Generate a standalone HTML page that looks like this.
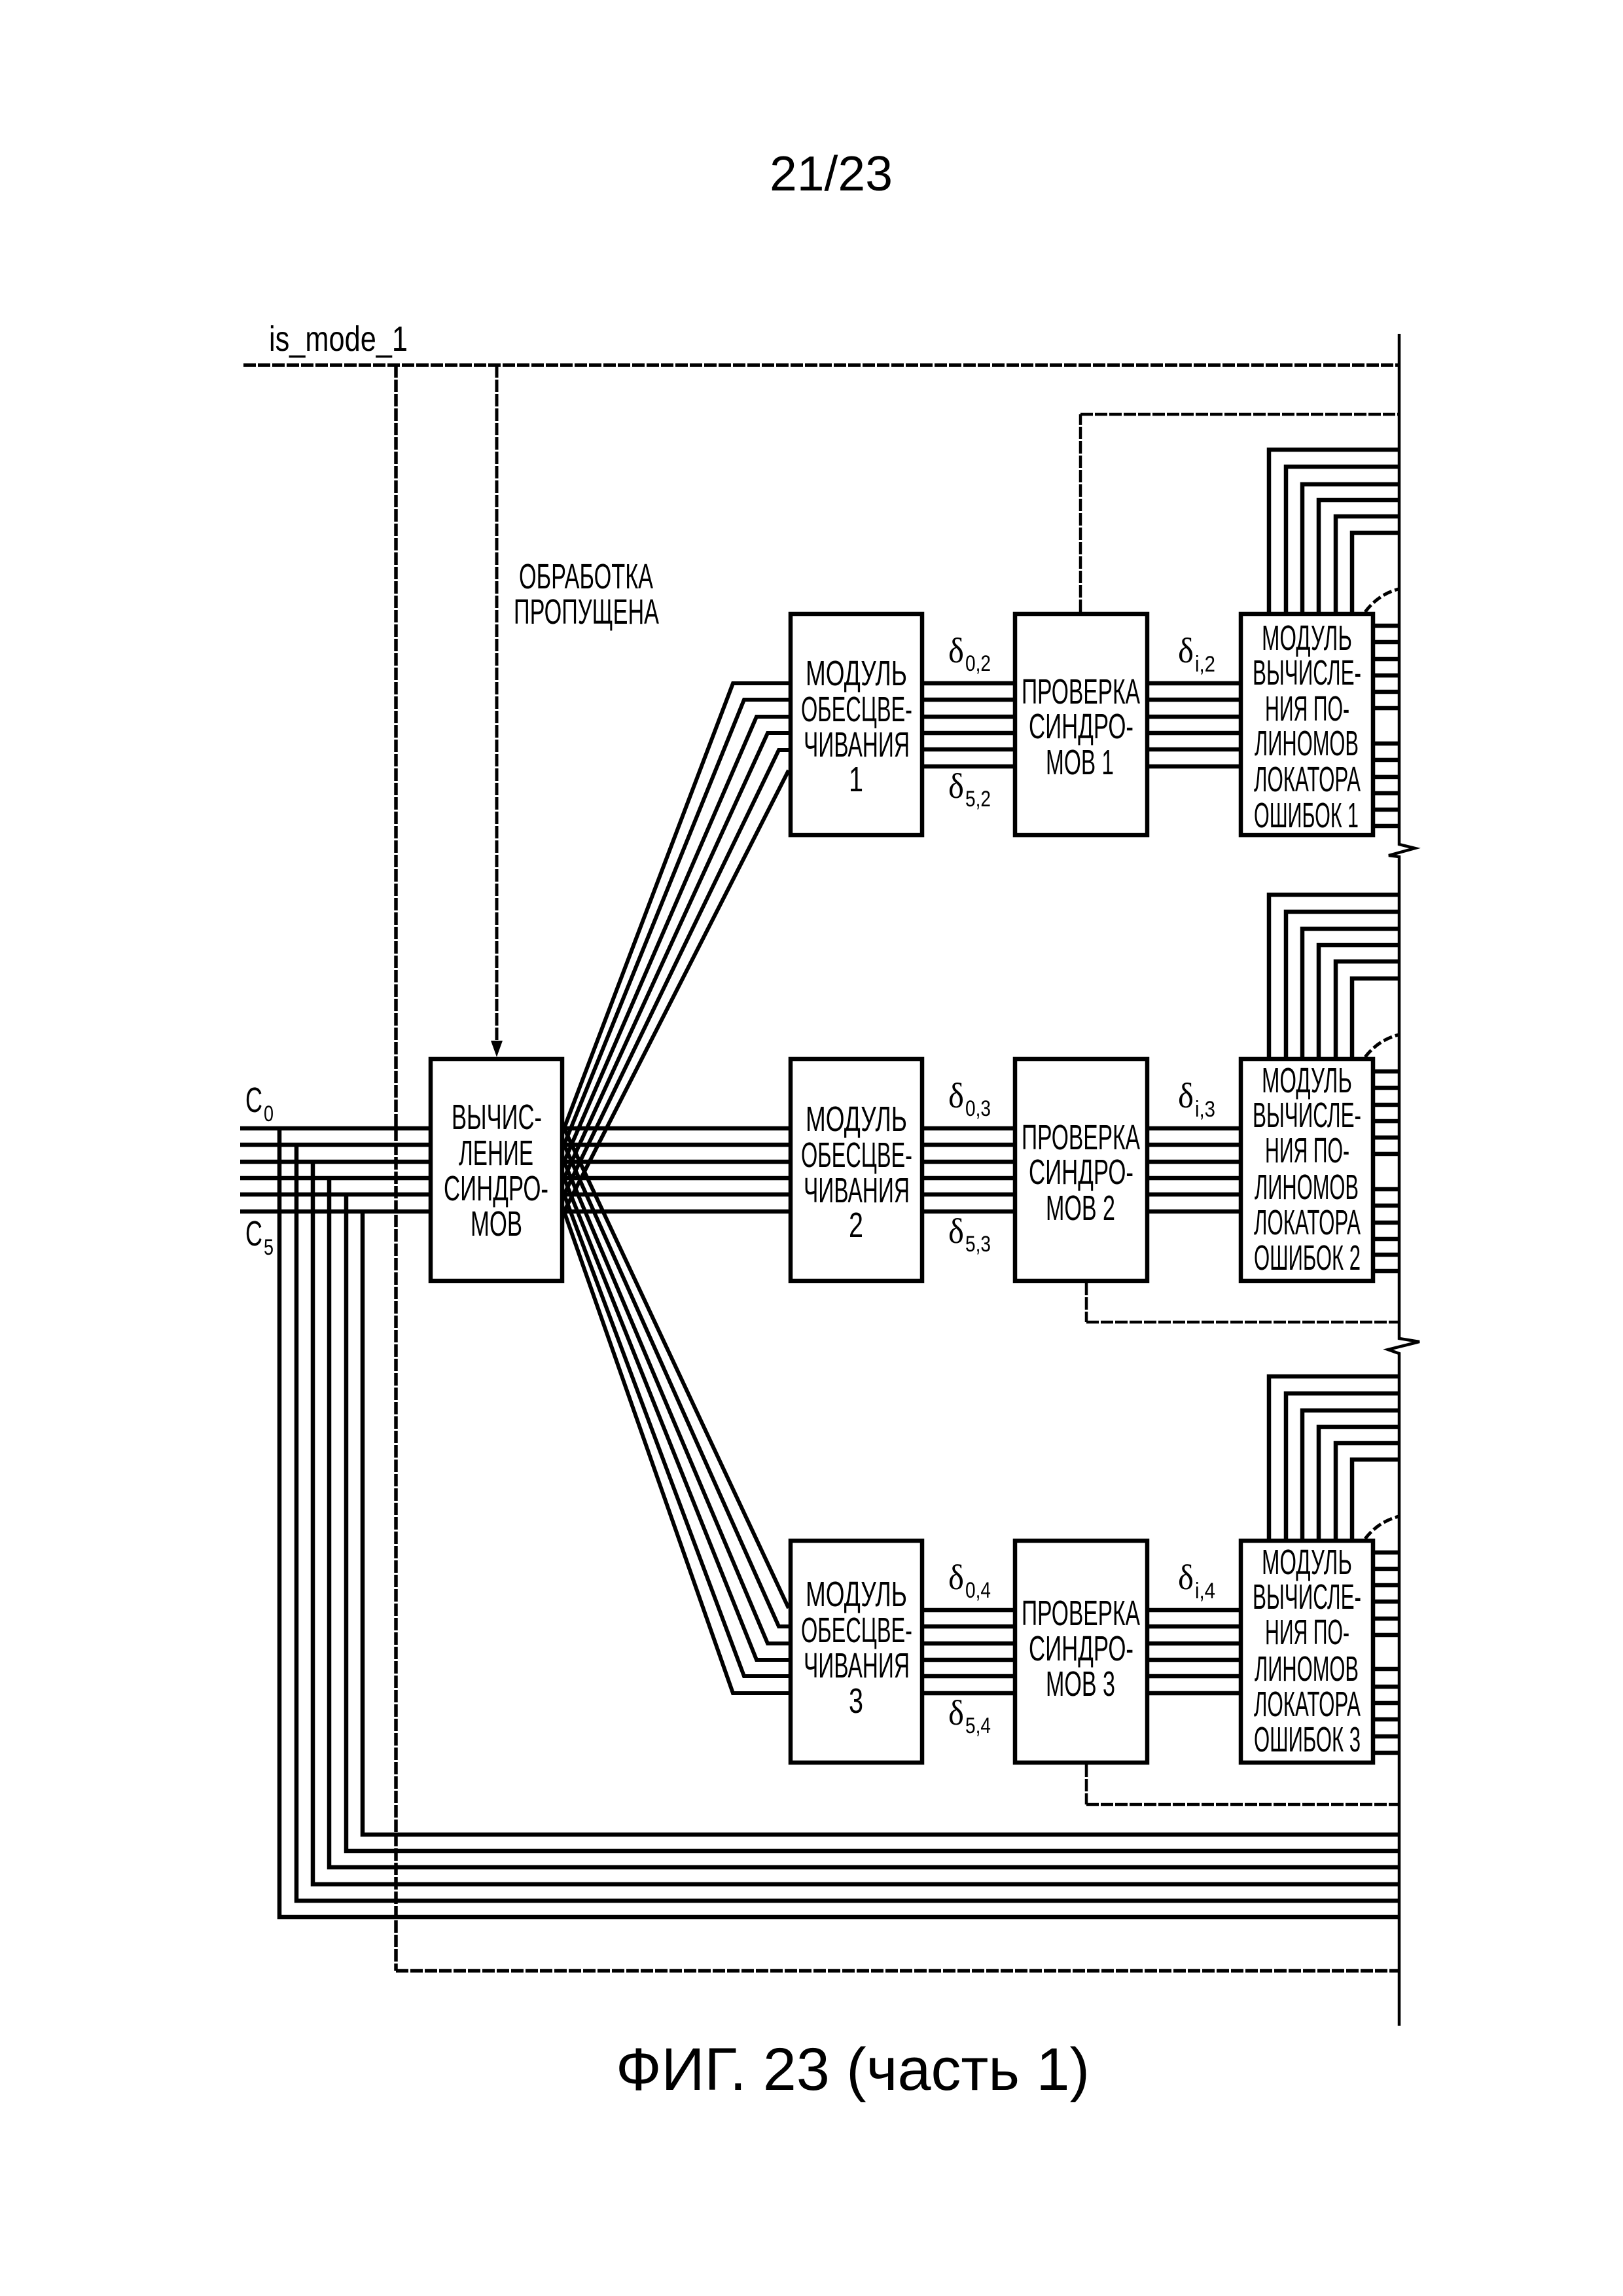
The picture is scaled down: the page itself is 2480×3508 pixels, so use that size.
<!DOCTYPE html>
<html><head><meta charset="utf-8"><style>
html,body{margin:0;padding:0;background:#fff}
svg{display:block}
text{font-family:"Liberation Sans",sans-serif;fill:#000;font-size:54px}
.d{font-family:"Liberation Serif",serif;font-size:54px}
.s{font-size:34px}
</style></head><body>
<svg width="2480" height="3508" viewBox="0 0 2480 3508" xmlns="http://www.w3.org/2000/svg">
<rect width="2480" height="3508" fill="#fff"/>
<g fill="none" stroke="#000" stroke-linejoin="miter">
<!-- dashed -->
<g stroke-width="5.5" stroke-dasharray="19 3">
<path d="M372 558H2137"/>
<path d="M605 558V3011"/>
<path d="M605 3011H2137"/>
<path d="M759 558V1592" stroke-width="5"/>
<path d="M1651 935V633" stroke-width="4.5"/>
<path d="M1651 633H2137" stroke-width="4.5"/>
<path d="M1660 1960V2020" stroke-width="4.5"/>
<path d="M1660 2020H2137" stroke-width="4.5"/>
<path d="M1660 2696V2757" stroke-width="4.5"/>
<path d="M1660 2757H2137" stroke-width="4.5"/>
</g>
<g stroke-width="5" stroke-dasharray="14 5">
<path d="M2086 935Q2106 908 2137 900"/>
<path d="M2086 1615Q2106 1589 2137 1581"/>
<path d="M2086 2351Q2106 2325 2137 2317"/>
</g>
<!-- right rail -->
<path stroke-width="4.5" d="M2138 510V1290L2162 1296L2122 1307L2138 1309V2045L2169 2050L2121 2062L2138 2068V3095"/>
<g stroke-width="6.5">
<!-- inputs -->
<path d="M367 1724H655M367 1749H655M367 1775H655M367 1800H655M367 1825H655M367 1851H655"/>
<path d="M427 1724V2929H2137M453 1749V2904H2137M478 1775V2879H2137M503 1800V2853H2137M529 1825V2828H2137M554 1851V2803H2137"/>
</g>
<g stroke-width="6">
<!-- fans -->
<path d="M862 1724L1120 1044H1205M862 1749L1137 1069H1205M862 1775L1156 1095H1205M862 1800L1173 1120H1205M862 1825L1190 1146H1205M862 1851L1205 1177"/>
<path d="M862 1851L1120 2587H1205M862 1825L1137 2561H1205M862 1800L1156 2536H1205M862 1775L1173 2511H1205M862 1749L1190 2485H1205M862 1724L1205 2457"/>
</g>
<g stroke-width="6.5">
<!-- straight middle -->
<path d="M862 1724H1205M862 1749H1205M862 1775H1205M862 1800H1205M862 1825H1205M862 1851H1205"/>
<!-- inter-box block 1 -->
<path d="M1412 1044H1893M1412 1069H1893M1412 1095H1893M1412 1120H1893M1412 1145H1893M1412 1171H1893"/>
<path d="M1412 1724H1893M1412 1749H1893M1412 1775H1893M1412 1800H1893M1412 1825H1893M1412 1851H1893"/>
<path d="M1412 2460H1893M1412 2485H1893M1412 2511H1893M1412 2536H1893M1412 2561H1893M1412 2587H1893"/>
<!-- nested -->
<path d="M1939 935V687H2137M1965 935V713H2137M1990 935V740H2137M2015 935V764H2137M2041 935V789H2137M2066 935V814H2137"/>
<path d="M1939 1615V1367H2137M1965 1615V1393H2137M1990 1615V1419H2137M2015 1615V1444H2137M2041 1615V1469H2137M2066 1615V1495H2137"/>
<path d="M1939 2351V2103H2137M1965 2351V2129H2137M1990 2351V2155H2137M2015 2351V2180H2137M2041 2351V2205H2137M2066 2351V2230H2137"/>
<!-- stubs -->
<path d="M2101 956H2137M2101 981H2137M2101 1007H2137M2101 1032H2137M2101 1057H2137M2101 1082H2137M2101 1136H2137M2101 1161H2137M2101 1187H2137M2101 1212H2137M2101 1237H2137M2101 1262H2137"/>
<path d="M2101 1637H2137M2101 1662H2137M2101 1688H2137M2101 1713H2137M2101 1738H2137M2101 1763H2137M2101 1817H2137M2101 1842H2137M2101 1868H2137M2101 1893H2137M2101 1917H2137M2101 1942H2137"/>
<path d="M2101 2372H2137M2101 2397H2137M2101 2422H2137M2101 2447H2137M2101 2473H2137M2101 2498H2137M2101 2550H2137M2101 2577H2137M2101 2602H2137M2101 2627H2137M2101 2653H2137M2101 2678H2137"/>
</g>
<!-- boxes -->
<g fill="#fff" stroke-width="6.5">
<rect x="658" y="1618" width="201" height="339"/>
<rect x="1208" y="938" width="201" height="338"/>
<rect x="1551" y="938" width="202" height="338"/>
<rect x="1896" y="938" width="202" height="338"/>
<rect x="1208" y="1618" width="201" height="339"/>
<rect x="1551" y="1618" width="202" height="339"/>
<rect x="1896" y="1618" width="202" height="339"/>
<rect x="1208" y="2354" width="201" height="339"/>
<rect x="1551" y="2354" width="202" height="339"/>
<rect x="1896" y="2354" width="202" height="339"/>
</g>
</g>
<path d="M759 1615L750 1590H768Z" fill="#000"/>

<text x="1176" y="291" style="font-size:75px" textLength="188" lengthAdjust="spacingAndGlyphs">21/23</text>
<text x="941" y="3193" style="font-size:92px" textLength="724" lengthAdjust="spacingAndGlyphs">ФИГ. 23 (часть 1)</text>
<text x="411" y="536" textLength="212" lengthAdjust="spacingAndGlyphs">is_mode_1</text>
<text x="793" y="899" textLength="205" lengthAdjust="spacingAndGlyphs">ОБРАБОТКА</text>
<text x="785" y="953" textLength="222" lengthAdjust="spacingAndGlyphs">ПРОПУЩЕНА</text>

<text x="375" y="1699" textLength="26" lengthAdjust="spacingAndGlyphs">C</text>
<text x="403" y="1713" class="s" textLength="15" lengthAdjust="spacingAndGlyphs">0</text>
<text x="375" y="1903" textLength="26" lengthAdjust="spacingAndGlyphs">C</text>
<text x="403" y="1917" class="s" textLength="15" lengthAdjust="spacingAndGlyphs">5</text>

<text x="690" y="1725" textLength="138" lengthAdjust="spacingAndGlyphs">ВЫЧИС-</text>
<text x="701" y="1780" textLength="114" lengthAdjust="spacingAndGlyphs">ЛЕНИЕ</text>
<text x="678" y="1834" textLength="160" lengthAdjust="spacingAndGlyphs">СИНДРО-</text>
<text x="719" y="1888" textLength="79" lengthAdjust="spacingAndGlyphs">МОВ</text>

<!-- module 1 -->
<text x="1231" y="1047" textLength="155" lengthAdjust="spacingAndGlyphs">МОДУЛЬ</text>
<text x="1224" y="1102" textLength="170" lengthAdjust="spacingAndGlyphs">ОБЕСЦВЕ-</text>
<text x="1228" y="1156" textLength="162" lengthAdjust="spacingAndGlyphs">ЧИВАНИЯ</text>
<text x="1297" y="1209" textLength="22" lengthAdjust="spacingAndGlyphs">1</text>
<text x="1231" y="1728" textLength="155" lengthAdjust="spacingAndGlyphs">МОДУЛЬ</text>
<text x="1224" y="1783" textLength="170" lengthAdjust="spacingAndGlyphs">ОБЕСЦВЕ-</text>
<text x="1228" y="1837" textLength="162" lengthAdjust="spacingAndGlyphs">ЧИВАНИЯ</text>
<text x="1297" y="1890" textLength="22" lengthAdjust="spacingAndGlyphs">2</text>
<text x="1231" y="2454" textLength="155" lengthAdjust="spacingAndGlyphs">МОДУЛЬ</text>
<text x="1224" y="2509" textLength="170" lengthAdjust="spacingAndGlyphs">ОБЕСЦВЕ-</text>
<text x="1228" y="2563" textLength="162" lengthAdjust="spacingAndGlyphs">ЧИВАНИЯ</text>
<text x="1297" y="2617" textLength="22" lengthAdjust="spacingAndGlyphs">3</text>

<!-- check -->
<text x="1561" y="1075" textLength="181" lengthAdjust="spacingAndGlyphs">ПРОВЕРКА</text>
<text x="1572" y="1128" textLength="160" lengthAdjust="spacingAndGlyphs">СИНДРО-</text>
<text x="1598" y="1183" textLength="104" lengthAdjust="spacingAndGlyphs">МОВ 1</text>
<text x="1561" y="1756" textLength="181" lengthAdjust="spacingAndGlyphs">ПРОВЕРКА</text>
<text x="1572" y="1809" textLength="160" lengthAdjust="spacingAndGlyphs">СИНДРО-</text>
<text x="1598" y="1864" textLength="106" lengthAdjust="spacingAndGlyphs">МОВ 2</text>
<text x="1561" y="2483" textLength="181" lengthAdjust="spacingAndGlyphs">ПРОВЕРКА</text>
<text x="1572" y="2537" textLength="160" lengthAdjust="spacingAndGlyphs">СИНДРО-</text>
<text x="1598" y="2591" textLength="106" lengthAdjust="spacingAndGlyphs">МОВ 3</text>

<!-- locator -->
<text x="1928" y="993" textLength="138" lengthAdjust="spacingAndGlyphs">МОДУЛЬ</text>
<text x="1914" y="1046" textLength="166" lengthAdjust="spacingAndGlyphs">ВЫЧИСЛЕ-</text>
<text x="1933" y="1101" textLength="129" lengthAdjust="spacingAndGlyphs">НИЯ ПО-</text>
<text x="1917" y="1154" textLength="159" lengthAdjust="spacingAndGlyphs">ЛИНОМОВ</text>
<text x="1916" y="1209" textLength="163" lengthAdjust="spacingAndGlyphs">ЛОКАТОРА</text>
<text x="1916" y="1264" textLength="160" lengthAdjust="spacingAndGlyphs">ОШИБОК 1</text>
<text x="1928" y="1669" textLength="138" lengthAdjust="spacingAndGlyphs">МОДУЛЬ</text>
<text x="1914" y="1722" textLength="166" lengthAdjust="spacingAndGlyphs">ВЫЧИСЛЕ-</text>
<text x="1933" y="1776" textLength="129" lengthAdjust="spacingAndGlyphs">НИЯ ПО-</text>
<text x="1917" y="1832" textLength="159" lengthAdjust="spacingAndGlyphs">ЛИНОМОВ</text>
<text x="1916" y="1886" textLength="163" lengthAdjust="spacingAndGlyphs">ЛОКАТОРА</text>
<text x="1916" y="1940" textLength="163" lengthAdjust="spacingAndGlyphs">ОШИБОК 2</text>
<text x="1928" y="2405" textLength="138" lengthAdjust="spacingAndGlyphs">МОДУЛЬ</text>
<text x="1914" y="2458" textLength="166" lengthAdjust="spacingAndGlyphs">ВЫЧИСЛЕ-</text>
<text x="1933" y="2512" textLength="129" lengthAdjust="spacingAndGlyphs">НИЯ ПО-</text>
<text x="1917" y="2568" textLength="159" lengthAdjust="spacingAndGlyphs">ЛИНОМОВ</text>
<text x="1916" y="2622" textLength="163" lengthAdjust="spacingAndGlyphs">ЛОКАТОРА</text>
<text x="1916" y="2676" textLength="163" lengthAdjust="spacingAndGlyphs">ОШИБОК 3</text>

<!-- deltas -->
<text class="d" x="1449" y="1012" textLength="24" lengthAdjust="spacingAndGlyphs">δ</text><text class="s" x="1475" y="1025" textLength="39" lengthAdjust="spacingAndGlyphs">0,2</text>
<text class="d" x="1449" y="1219" textLength="24" lengthAdjust="spacingAndGlyphs">δ</text><text class="s" x="1475" y="1232" textLength="39" lengthAdjust="spacingAndGlyphs">5,2</text>
<text class="d" x="1800" y="1012" textLength="24" lengthAdjust="spacingAndGlyphs">δ</text><text class="s" x="1826" y="1026" textLength="31" lengthAdjust="spacingAndGlyphs">i,2</text>

<text class="d" x="1449" y="1692" textLength="24" lengthAdjust="spacingAndGlyphs">δ</text><text class="s" x="1475" y="1705" textLength="39" lengthAdjust="spacingAndGlyphs">0,3</text>
<text class="d" x="1449" y="1899" textLength="24" lengthAdjust="spacingAndGlyphs">δ</text><text class="s" x="1475" y="1912" textLength="39" lengthAdjust="spacingAndGlyphs">5,3</text>
<text class="d" x="1800" y="1692" textLength="24" lengthAdjust="spacingAndGlyphs">δ</text><text class="s" x="1826" y="1706" textLength="31" lengthAdjust="spacingAndGlyphs">i,3</text>

<text class="d" x="1449" y="2428" textLength="24" lengthAdjust="spacingAndGlyphs">δ</text><text class="s" x="1475" y="2441" textLength="39" lengthAdjust="spacingAndGlyphs">0,4</text>
<text class="d" x="1449" y="2635" textLength="24" lengthAdjust="spacingAndGlyphs">δ</text><text class="s" x="1475" y="2648" textLength="39" lengthAdjust="spacingAndGlyphs">5,4</text>
<text class="d" x="1800" y="2428" textLength="24" lengthAdjust="spacingAndGlyphs">δ</text><text class="s" x="1826" y="2442" textLength="31" lengthAdjust="spacingAndGlyphs">i,4</text>
</svg>
</body></html>
